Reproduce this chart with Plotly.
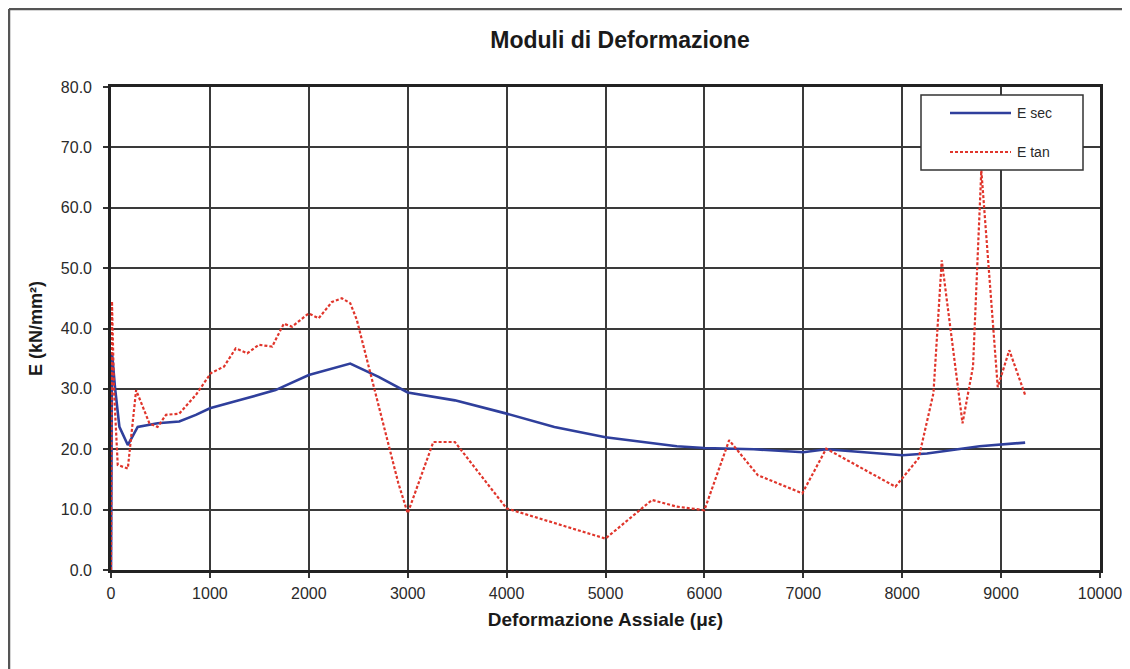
import plotly.graph_objects as go

# E sec (blue, solid)
sec_x = [0, 10, 40, 85, 170, 270, 471, 690, 858, 1000, 1294, 1663, 2000, 2419, 2706, 3000, 3477, 4000, 4483, 5000, 5721, 6000, 6500, 7000, 7232, 8000, 8250, 8783, 9243]
sec_y = [0, 36.0, 30.3, 23.7, 20.7, 23.7, 24.3, 24.6, 25.7, 26.8, 28.1, 29.8, 32.3, 34.2, 32.0, 29.4, 28.1, 25.9, 23.7, 22.0, 20.5, 20.2, 20.0, 19.5, 20.0, 19.0, 19.3, 20.5, 21.1]

# E tan (red, dotted)
tan_x = [0, 10, 30, 68, 170, 254, 388, 471, 556, 690, 858, 1009, 1143, 1261, 1378, 1495, 1630, 1747, 1831, 1999, 2100, 2234, 2334, 2419, 2486, 2905, 3000, 3259, 3477, 4000, 5000, 5470, 5721, 6000, 6250, 6540, 6990, 7232, 7931, 8166, 8316, 8400, 8610, 8716, 8800, 8966, 9083, 9243]
tan_y = [0, 44.5, 30.0, 17.4, 16.8, 29.8, 24.3, 23.7, 25.7, 25.9, 29.0, 32.6, 33.7, 36.7, 35.9, 37.3, 37.0, 40.8, 40.3, 42.5, 41.7, 44.4, 45.0, 44.2, 41.4, 14.4, 9.4, 21.2, 21.2, 10.2, 5.2, 11.6, 10.5, 9.9, 21.5, 15.7, 12.7, 20.1, 13.8, 18.5, 29.3, 51.3, 24.3, 33.7, 66.2, 30.3, 36.4, 29.0]

x_ticks = [0, 1000, 2000, 3000, 4000, 5000, 6000, 7000, 8000, 9000, 10000]
y_ticks = [0, 10, 20, 30, 40, 50, 60, 70, 80]
series_names = ["E sec", "E tan"]
series_colors = ["#2f3f9c", "#e0352b"]

FONT = "Liberation Sans, Arial, sans-serif"

fig = go.Figure()
fig.add_trace(go.Scatter(x=sec_x, y=sec_y, mode="lines", name=series_names[0],
                         line=dict(color=series_colors[0], width=2.6)))
fig.add_trace(go.Scatter(x=tan_x, y=tan_y, mode="lines", name=series_names[1],
                         line=dict(color=series_colors[1], width=2.2, dash="3px,2px")))

fig.update_layout(
    width=1130, height=669,
    margin=dict(l=103, r=38, t=79, b=107),
    paper_bgcolor="white", plot_bgcolor="white",
    title=dict(text="<b>Moduli di Deformazione</b>", x=0.5416, xanchor="center",
               y=0.952, yanchor="middle",
               font=dict(family=FONT, size=23, color="#1a1a1a")),
    font=dict(family=FONT, size=16, color="#2a2a2a"),
    showlegend=False,
    xaxis=dict(range=[0, 10000], tickvals=x_ticks, ticktext=[str(v) for v in x_ticks],
               showgrid=True, gridcolor="#3a3a3a", gridwidth=1.8,
               showline=True, linecolor="#222", linewidth=2.6, mirror=True,
               ticks="outside", ticklen=5, tickcolor="#333", tickwidth=1.5,
               ticklabelstandoff=2,
               zeroline=False, automargin=False,
               title=dict(text="<b>Deformazione Assiale (με)</b>", standoff=12,
                          font=dict(family=FONT, size=19, color="#1a1a1a"))),
    yaxis=dict(range=[0, 80], tickvals=y_ticks, ticktext=[f"{v:.1f}" for v in y_ticks],
               showgrid=True, gridcolor="#3a3a3a", gridwidth=1.8,
               showline=True, linecolor="#222", linewidth=2.6, mirror=True,
               ticks="outside", ticklen=5, tickcolor="#333", tickwidth=1.5,
               ticklabelstandoff=8,
               zeroline=False, automargin=False,
               title=dict(text="<b>E (kN/mm²)</b>", standoff=14,
                          font=dict(family=FONT, size=18, color="#1a1a1a"))),
)

# manual legend (box, line samples, labels) in paper coordinates
def px2x(p):
    return (p - 111) / 989.0

def py2y(p):
    return (570 - p) / 483.0

fig.add_shape(type="rect", xref="paper", yref="paper",
              x0=px2x(921), x1=px2x(1083), y0=py2y(170), y1=py2y(95),
              line=dict(color="#333", width=1.5), fillcolor="white", layer="above")
legend_rows = [113, 152]
for name, col, row, dash, w in zip(series_names, series_colors, legend_rows,
                                    ["solid", "3px,2px"], [2.6, 2.2]):
    fig.add_shape(type="line", xref="paper", yref="paper",
                  x0=px2x(950), x1=px2x(1011), y0=py2y(row), y1=py2y(row),
                  line=dict(color=col, width=w, dash=dash), layer="above")
    fig.add_annotation(xref="paper", yref="paper", x=px2x(1015), y=py2y(row),
                       xanchor="left", yanchor="middle", showarrow=False,
                       text=name, font=dict(family=FONT, size=14, color="#2a2a2a"))

# scanned page frame (top and left edges)
fig.add_shape(type="line", xref="paper", yref="paper",
              x0=px2x(9), x1=1.1, y0=py2y(9), y1=py2y(9),
              line=dict(color="#555", width=2.5), layer="below")
fig.add_shape(type="line", xref="paper", yref="paper",
              x0=px2x(9), x1=px2x(9), y0=py2y(9), y1=-0.3,
              line=dict(color="#555", width=2.5), layer="below")

fig.write_html("out.html")
